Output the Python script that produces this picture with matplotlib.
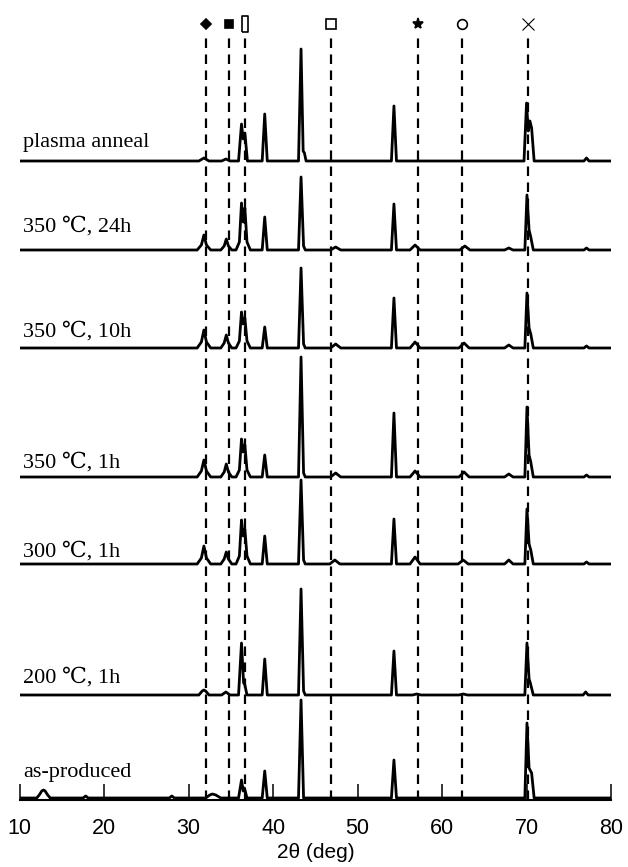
import matplotlib
matplotlib.use("Agg")
import matplotlib.pyplot as plt

# XRD patterns, vertices (2theta in deg, intensity in a.u.)
plasma_x = [10, 31.2, 31.8, 32.4, 33.9, 34.4, 34.9, 35.9, 36.25, 36.45, 36.65, 36.95,
            38.7, 39.0, 39.3, 43.0, 43.3, 43.55, 43.7, 43.9, 54.0, 54.3, 54.6,
            69.7, 70.0, 70.2, 70.4, 70.6, 70.9, 76.8, 77.1, 77.4, 80]
plasma_y = [0, 0, 3, 0, 0, 2, 0, 0, 37, 22, 28, 0,
            0, 47, 0, 0, 112, 10, 8, 0, 0, 55, 0,
            0, 58, 30, 40, 33, 0, 0, 3, 0, 0]

h24_x = [10, 31.0, 31.5, 31.8, 32.1, 32.6, 33.8, 34.2, 34.45, 34.7, 35.1,
         35.6, 36.0, 36.25, 36.45, 36.65, 36.9, 37.3, 38.7, 39.0, 39.3,
         43.0, 43.3, 43.6, 43.8, 46.8, 47.4, 48.0, 54.0, 54.3, 54.6,
         56.2, 56.8, 57.4, 62.1, 62.7, 63.3, 67.4, 67.9, 68.4,
         69.8, 70.05, 70.3, 70.5, 70.8, 76.8, 77.1, 77.4, 80]
h24_y = [0, 0, 5, 15, 5, 0, 0, 4, 11, 4, 0,
         0, 8, 47, 28, 42, 8, 0, 0, 33, 0,
         0, 73, 4, 0, 0, 3, 0, 0, 46, 0,
         0, 5, 0, 0, 4, 0, 0, 2, 0,
         0, 55, 20, 13, 0, 0, 2, 0, 0]

h10_x = [10, 31.0, 31.5, 31.8, 32.1, 32.6, 33.8, 34.2, 34.45, 34.7, 35.1,
         35.6, 36.0, 36.25, 36.45, 36.65, 36.9, 37.3, 38.7, 39.0, 39.3,
         43.0, 43.3, 43.6, 43.8, 46.8, 47.4, 48.0, 54.0, 54.3, 54.6,
         56.2, 56.8, 57.4, 62.0, 62.6, 63.2, 67.4, 67.9, 68.4,
         69.8, 70.05, 70.3, 70.5, 70.8, 76.8, 77.1, 77.4, 80]
h10_y = [0, 0, 6, 18, 6, 0, 0, 5, 13, 5, 0,
         0, 7, 36, 24, 30, 7, 0, 0, 21, 0,
         0, 80, 4, 0, 0, 4, 0, 0, 50, 0,
         0, 6, 0, 0, 5, 0, 0, 3, 0,
         0, 55, 20, 14, 0, 0, 2, 0, 0]

h1_x = [10, 31.0, 31.5, 31.8, 32.1, 32.6, 33.8, 34.2, 34.45, 34.7, 35.1,
        35.6, 36.0, 36.25, 36.45, 36.65, 36.9, 37.3, 38.7, 39.0, 39.3,
        43.0, 43.3, 43.6, 43.8, 46.8, 47.4, 48.0, 54.0, 54.3, 54.6,
        56.2, 56.8, 57.4, 62.0, 62.6, 63.2, 67.4, 67.9, 68.4,
        69.8, 70.05, 70.3, 70.5, 70.8, 76.8, 77.1, 77.4, 80]
h1_y = [0, 0, 6, 17, 6, 0, 0, 5, 13, 5, 0,
        0, 7, 38, 25, 32, 7, 0, 0, 22, 0,
        0, 120, 4, 0, 0, 4, 0, 0, 64, 0,
        0, 6, 0, 0, 5, 0, 0, 3, 0,
        0, 70, 22, 15, 0, 0, 2, 0, 0]

c300_x = [10, 31.0, 31.5, 31.8, 32.1, 32.6, 33.8, 34.2, 34.45, 34.7, 35.1,
          35.6, 36.0, 36.25, 36.45, 36.65, 36.9, 37.3, 38.7, 39.0, 39.3,
          43.0, 43.3, 43.6, 43.8, 46.7, 47.3, 47.9, 54.0, 54.3, 54.6,
          56.2, 56.8, 57.4, 61.9, 62.5, 63.1, 67.4, 67.9, 68.4,
          69.8, 70.05, 70.3, 70.5, 70.8, 76.8, 77.1, 77.4, 80]
c300_y = [0, 0, 6, 18, 6, 0, 0, 5, 12, 5, 0,
          0, 8, 44, 28, 35, 8, 0, 0, 28, 0,
          0, 84, 4, 0, 0, 4, 0, 0, 45, 0,
          0, 7, 0, 0, 4, 0, 0, 4, 0,
          0, 55, 20, 14, 0, 0, 2, 0, 0]

c200_x = [10, 31.2, 31.6, 31.8, 32.0, 32.4, 33.9, 34.4, 34.9, 35.9, 36.25, 36.5, 36.6, 36.9,
          38.7, 39.0, 39.3, 43.0, 43.3, 43.6, 43.8, 54.0, 54.3, 54.6,
          56.5, 57.0, 57.5, 62.0, 62.5, 63.0,
          69.8, 70.05, 70.3, 70.45, 70.8, 76.7, 77.0, 77.3, 80]
c200_y = [0, 0, 4, 5, 4, 0, 0, 3, 0, 0, 52, 12, 12, 0,
          0, 36, 0, 0, 106, 4, 0, 0, 44, 0,
          0, 1, 0, 0, 1, 0,
          0, 52, 16, 12, 0, 0, 3, 0, 0]

asprod_x = [10, 12.0, 12.3, 12.6, 12.8, 13.0, 13.3, 13.6, 17.5, 17.8, 18.1, 27.7, 28.0, 28.3,
            32.0, 32.5, 32.8, 33.2, 33.8, 35.9, 36.25, 36.45, 36.6, 36.9,
            38.7, 39.0, 39.3, 43.0, 43.3, 43.6, 54.0, 54.3, 54.6,
            69.8, 70.05, 70.3, 70.6, 70.9, 80]
asprod_y = [0, 0, 3, 7, 8, 7, 3, 0, 0, 2, 0, 0, 2, 0,
            0, 3, 4, 3, 0, 0, 18, 7, 10, 0,
            0, 27, 0, 0, 98, 0, 0, 38, 0,
            0, 75, 30, 25, 0, 0]

traces = [(plasma_x, plasma_y), (h24_x, h24_y), (h10_x, h10_y), (h1_x, h1_y),
          (c300_x, c300_y), (c200_x, c200_y), (asprod_x, asprod_y)]
labels = ["plasma anneal", "350 \u2103, 24h", "350 \u2103, 10h", "350 \u2103, 1h",
          "300 \u2103, 1h", "200 \u2103, 1h", "as-produced"]
offsets = [639, 550, 452, 323, 236, 105, 2]
label_y = [653, 568, 463, 332, 243, 117, 23]

# reference peak positions and their symbols
ref_pos = [32.1, 34.75, 36.7, 46.9, 57.1, 62.4, 70.2]
ref_marker = ["D", "s", "rect", "s", "*", "o", "x"]
ref_filled = [True, True, False, False, True, False, True]
ref_size = [5, 6, 11, 7, 8, 7, 8]

fig = plt.figure(figsize=(6.28, 8.67), dpi=100)
ax = fig.add_axes([19.8 / 628, 67 / 867, (611 - 19.8) / 628, 800 / 867])
ax.set_xlim(10, 80)
ax.set_ylim(0, 800)

for pos in ref_pos:
    ax.plot([pos, pos], [0, 767], color="black", lw=1.6,
            dashes=(4.3, 2.9), zorder=1)

for (x, y), off in zip(traces, offsets):
    ax.plot(x, [v + off for v in y], color="black", lw=2.0,
            solid_joinstyle="round", zorder=3)

for lab, ly in zip(labels, label_y):
    ax.text(10.35, ly, lab, fontsize=16, va="baseline", ha="left",
            family=["Liberation Serif", "DejaVu Serif"])

rect = [(-0.35, -1), (0.35, -1), (0.35, 1), (-0.35, 1), (-0.35, -1)]
for pos, m, filled, sz in zip(ref_pos, ref_marker, ref_filled, ref_size):
    mk = rect if m == "rect" else m
    ax.plot([pos], [776], marker=mk, ms=sz, linestyle="none",
            mfc="black" if filled else "white", mec="black",
            mew=0.8 if m == "x" else 1.2, clip_on=False, zorder=4)

for s in ["left", "right", "top"]:
    ax.spines[s].set_visible(False)
ax.spines["bottom"].set_linewidth(1.5)
ax.set_yticks([])
ax.set_xticks(range(10, 81, 10))
ax.tick_params(axis="x", direction="in", length=11.5, width=1.1, pad=13,
               labelsize=15.5)
for t in ax.get_xticklabels():
    t.set_family("Liberation Sans")
ax.set_xlabel("2\u03b8 (deg)", fontsize=15, family="Liberation Sans", labelpad=3)

fig.savefig("out.png", dpi=100)
